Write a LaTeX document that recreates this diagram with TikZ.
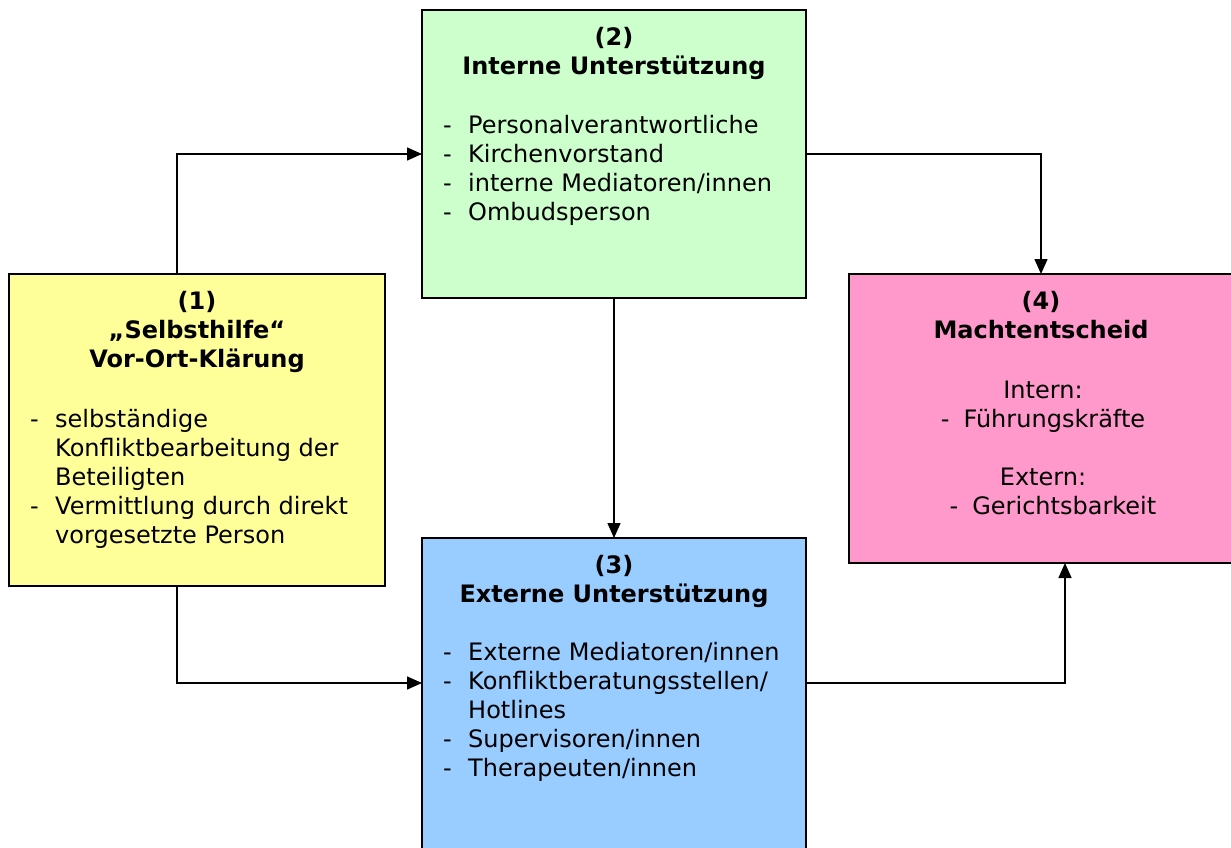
\documentclass[tikz,border=0pt]{standalone}
\usepackage{fontspec}
\setmainfont{DejaVu Sans}
\usetikzlibrary{arrows.meta}
\definecolor{boxyellow}{HTML}{FFFF99}
\definecolor{boxgreen}{HTML}{CCFFCC}
\definecolor{boxblue}{HTML}{99CCFF}
\definecolor{boxpink}{HTML}{FF99CC}
\newcommand{\itm}{\makebox[25pt][l]{-}}
\newcommand{\cnt}{\hspace*{25pt}}
\begin{document}
\begin{tikzpicture}[x=1pt,y=-1pt,
  box/.style={draw=black,line width=1.5pt,inner sep=0pt,outer sep=0pt},
  conn/.style={draw=black,line width=1.5pt,-{Triangle[length=15pt,width=13pt]}},
  txt/.style={inner sep=0pt,font=\fontsize{24}{29}\selectfont},
  ttl/.style={txt,font=\fontsize{24}{29}\selectfont\bfseries,align=center,anchor=base},
  lst/.style={txt,align=left,anchor=base west}]
\useasboundingbox (0,0) rectangle (1231,848);
% boxes
\node[box,fill=boxyellow,minimum width=376pt,minimum height=312pt] (b1) at (197,430) {};
\node[box,fill=boxgreen,minimum width=384pt,minimum height=288pt] (b2) at (614,154) {};
\node[box,fill=boxblue,minimum width=384pt,minimum height=342pt] (b3) at (614,709) {};
\node[box,fill=boxpink,minimum width=396pt,minimum height=289pt] (b4) at (1047,418.5) {};
% connectors
\draw[conn] ([xshift=-20pt]b1.north) |- (b2.west);
\draw[conn] (b2.east) -| ([xshift=-6pt]b4.north);
\draw[conn] (b2.south) -- (b3.north);
\draw[conn] ([xshift=-20pt]b1.south) |- ([yshift=26pt]b3.west);
\draw[conn] ([yshift=26pt]b3.east) -| ([xshift=18pt]b4.south);
% texts (base anchor = baseline of last line)
\node[ttl] (t1) at (197,367) {(1)\\„Selbsthilfe“\\Vor-Ort-Klärung};
\node[lst] (l1) at (30,543) {\itm selbständige\\\cnt Konfliktbearbeitung der\\\cnt Beteiligten\\\itm Vermittlung durch direkt\\\cnt vorgesetzte Person};
\node[ttl] (t2) at (614,75) {(2)\\Interne Unterstützung};
\node[lst] (l2) at (443,220) {\itm Personalverantwortliche\\\itm Kirchenvorstand\\\itm interne Mediatoren/innen\\\itm Ombudsperson};
\node[ttl] (t3) at (614,602) {(3)\\Externe Unterstützung};
\node[lst] (l3) at (443,776) {\itm Externe Mediatoren/innen\\\itm Konfliktberatungsstellen/\\\cnt Hotlines\\\itm Supervisoren/innen\\\itm Therapeuten/innen};
\node[ttl] (t4) at (1041,338) {(4)\\Machtentscheid};
\node[txt,align=center,anchor=base] (l4) at (1043,514) {Intern:\\-\hspace{14pt}Führungskräfte\\[29pt]Extern:\\\hspace*{20pt}-\hspace{14pt}Gerichtsbarkeit};
\end{tikzpicture}
\end{document}
